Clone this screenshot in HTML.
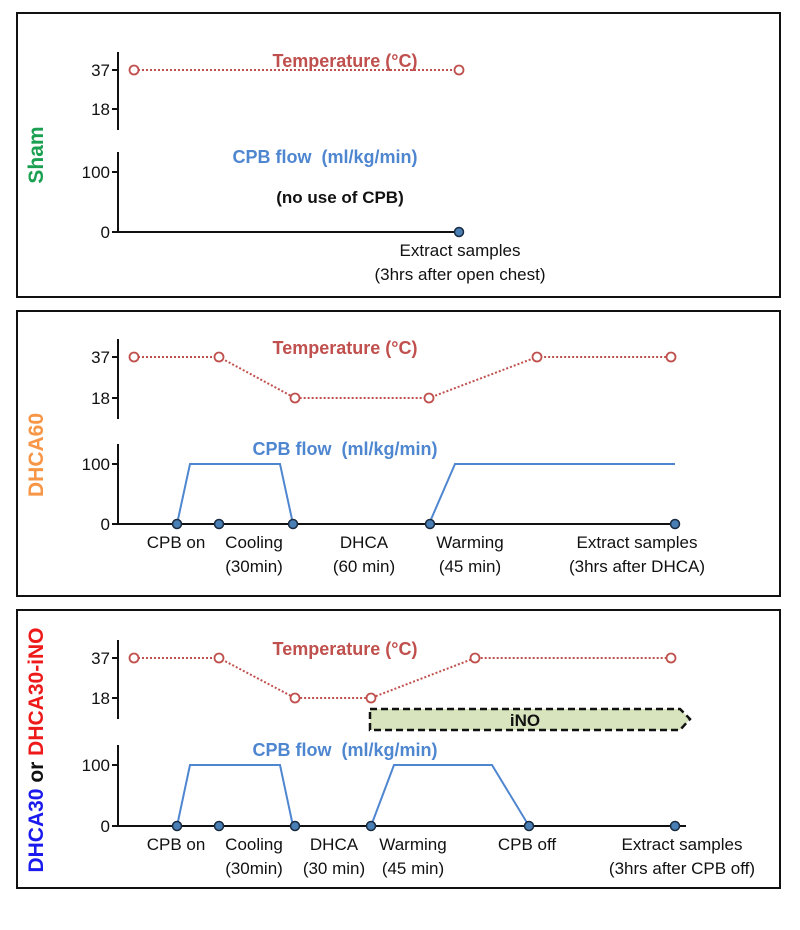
<!DOCTYPE html>
<html><head><meta charset="utf-8"><style>
html,body{margin:0;padding:0;background:#fff;}
svg{display:block;font-family:"Liberation Sans",sans-serif;}
</style></head><body>
<svg id="c" width="800" height="930" viewBox="0 0 800 930"></svg>
<script>
// time positions (arbitrary timeline units), temperatures and flows per panel
const shamTempT=[16,341]; const shamTempV=[37,37];
const shamFlowT=[]; const shamFlowV=[]; const shamDots=[341];
const d60TempT=[16,101,177,311,419,553]; const d60TempV=[37,37,18,18,37,37];
const d60FlowT=[59,72,162,175,null,311,337,557]; const d60FlowV=[0,100,100,0,null,0,100,100];
const d60Dots=[59,101,175,312,557];
const d30TempT=[16,101,177,253,357,553]; const d30TempV=[37,37,18,18,37,37];
const d30FlowT=[59,72,162,175,null,253,276,374,411]; const d30FlowV=[0,100,100,0,null,0,100,100,0];
const d30Dots=[59,101,177,253,411,557];
const tempTicks=[37,18]; const flowTicks=[100,0];

const svg=document.getElementById('c');
const NS='http://www.w3.org/2000/svg';
function mk(tag,attrs,parent,name,text){const e=document.createElementNS(NS,tag);for(const k in attrs)e.setAttribute(k,attrs[k]);


if(text!==undefined)e.textContent=text;(parent||svg).appendChild(e);return e;}
const X=t=>118+t;
function panel(p){
  const g=mk('g',{},svg,p.name);
  mk('rect',{x:17,y:p.top,width:763,height:p.h,fill:'none',stroke:'#111','stroke-width':2},g,'panel-border');
  const tY=v=>p.t37+(37-v)*(p.t18-p.t37)/19;
  const fY=v=>p.f0-(v/100)*(p.f0-p.f100);
  mk('line',{x1:118,y1:p.t37-18,x2:118,y2:p.t18+21,stroke:'#111','stroke-width':2},g,'temp-axis');
  tempTicks.forEach(v=>{mk('line',{x1:112,y1:tY(v),x2:118,y2:tY(v),stroke:'#111','stroke-width':2},g,'temp-tick');
    mk('text',{x:110,y:tY(v)+6,'text-anchor':'end','font-size':17,fill:'#111'},g,'temp-tick-label',String(v));});
  mk('line',{x1:118,y1:p.f100-20,x2:118,y2:p.f0,stroke:'#111','stroke-width':2},g,'flow-axis');
  flowTicks.forEach(v=>{mk('line',{x1:112,y1:fY(v),x2:118,y2:fY(v),stroke:'#111','stroke-width':2},g,'flow-tick');
    mk('text',{x:110,y:fY(v)+6,'text-anchor':'end','font-size':17,fill:'#111'},g,'flow-tick-label',String(v));});
  mk('line',{x1:118,y1:p.f0,x2:p.baseEnd,y2:p.f0,stroke:'#111','stroke-width':2},g,'time-baseline');
  let pts=p.tT.map((t,i)=>X(t)+','+tY(p.tV[i])).join(' ');
  mk('polyline',{points:pts,fill:'none',stroke:'#c0504d','stroke-width':2,'stroke-dasharray':'2 2'},g,'temperature-line');
  p.tT.forEach((t,i)=>mk('circle',{cx:X(t),cy:tY(p.tV[i]),r:4.5,fill:'#fff',stroke:'#c0504d','stroke-width':1.8},g,'temperature-point'));
  let seg=[];const segs=[];
  p.fT.forEach((t,i)=>{if(t===null){segs.push(seg);seg=[];}else seg.push(X(t)+','+fY(p.fV[i]));});segs.push(seg);
  segs.forEach(s=>{if(s.length)mk('polyline',{points:s.join(' '),fill:'none',stroke:'#4f86d0','stroke-width':2},g,'cpb-flow-line');});
  p.dots.forEach(t=>mk('circle',{cx:X(t),cy:p.f0,r:4.5,fill:'#4a7fb5',stroke:'#1a2b40','stroke-width':1.5},g,'event-dot'));
  mk('text',{x:p.tLabX,y:p.t37-3,'text-anchor':'middle','font-size':18,'font-weight':'bold',fill:'#c0504d'},g,'temperature-title','Temperature (°C)');
  mk('text',{x:p.fLabX,y:p.f100-9,'text-anchor':'middle','font-size':18,'font-weight':'bold',fill:'#4f86d0'},g,'cpb-flow-title','CPB flow \u00a0(ml/kg/min)');
  p.labels.forEach(l=>{mk('text',{x:l[0],y:p.f0+24,'text-anchor':'middle','font-size':17,fill:'#111'},g,'event-label',l[1]);
    if(l[2])mk('text',{x:l[0],y:p.f0+48,'text-anchor':'middle','font-size':17,fill:'#111'},g,'event-duration',l[2]);});
  return g;
}
panel({name:'sham-panel',top:13,h:284,t37:70,t18:109,f100:172,f0:232,baseEnd:463,tT:shamTempT,tV:shamTempV,fT:shamFlowT,fV:shamFlowV,dots:shamDots,tLabX:345,fLabX:325,
  labels:[[460,'Extract samples','(3hrs after open chest)']]});
mk('text',{x:340,y:203,'text-anchor':'middle','font-size':17,'font-weight':'bold',fill:'#111'},svg,'no-cpb-note','(no use of CPB)');
panel({name:'dhca60-panel',top:311,h:285,t37:357,t18:398,f100:464,f0:524,baseEnd:680,tT:d60TempT,tV:d60TempV,fT:d60FlowT,fV:d60FlowV,dots:d60Dots,tLabX:345,fLabX:345,
  labels:[[176,'CPB on'],[254,'Cooling','(30min)'],[364,'DHCA','(60 min)'],[470,'Warming','(45 min)'],[637,'Extract samples','(3hrs after DHCA)']]});
panel({name:'dhca30-panel',top:610,h:278,t37:658,t18:698,f100:765,f0:826,baseEnd:686,tT:d30TempT,tV:d30TempV,fT:d30FlowT,fV:d30FlowV,dots:d30Dots,tLabX:345,fLabX:345,
  labels:[[176,'CPB on'],[254,'Cooling','(30min)'],[334,'DHCA','(30 min)'],[413,'Warming','(45 min)'],[527,'CPB off'],[682,'Extract samples','(3hrs after CPB off)']]});
mk('path',{d:'M370,709 L680,709 L690,719 L680,730 L370,730 Z',fill:'#d7e4bd',stroke:'#111','stroke-width':2.5,'stroke-dasharray':'7 4'},svg,'ino-bar');
mk('text',{x:525,y:726,'text-anchor':'middle','font-size':17,'font-weight':'bold',fill:'#111'},svg,'ino-label','iNO');
mk('text',{x:0,y:0,transform:'translate(43,155) rotate(-90)','text-anchor':'middle','font-size':21,'font-weight':'bold',fill:'#1aa050'},svg,'sham-group-label','Sham');
mk('text',{x:0,y:0,transform:'translate(43,455) rotate(-90)','text-anchor':'middle','font-size':21,'font-weight':'bold',fill:'#f79646'},svg,'dhca60-group-label','DHCA60');
const gl=mk('text',{x:0,y:0,transform:'translate(43,750) rotate(-90)','text-anchor':'middle','font-size':21,'font-weight':'bold'},svg,'dhca30-group-label');
mk('tspan',{fill:'#1a1aee'},gl,'dhca30-text','DHCA30');
mk('tspan',{fill:'#111'},gl,'or-text',' or ');
mk('tspan',{fill:'#ee1a1a'},gl,'dhca30-ino-text','DHCA30-iNO');
</script>
</body></html>
